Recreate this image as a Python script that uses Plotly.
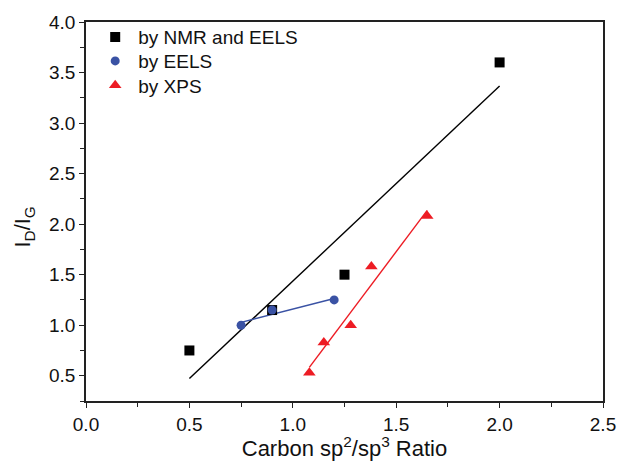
import numpy as np
import plotly.graph_objects as go

# I_D/I_G versus carbon sp2/sp3 ratio, grouped by the method used to get the ratio
nmr_eels_x = [0.5, 0.9, 1.25, 2.0]
nmr_eels_y = [0.75, 1.15, 1.5, 3.6]

eels_x = [0.75, 0.9, 1.2]
eels_y = [1.0, 1.15, 1.25]

xps_x = [1.08, 1.15, 1.28, 1.38, 1.65]
xps_y = [0.53, 0.83, 1.0, 1.58, 2.08]

BLACK = "#000000"
BLUE = "#3A52A4"
RED = "#ED1C24"
FONT = "Liberation Sans, Arial, sans-serif"
TEXT = "#111111"
AXIS = "#222222"


def fit_line(x, y):
    slope, intercept = np.polyfit(x, y, 1)
    xs = np.array([min(x), max(x)])
    return xs, slope * xs + intercept


fig = go.Figure()

# least-squares lines for each group
for xs, ys, color in [
    (nmr_eels_x, nmr_eels_y, BLACK),
    (eels_x, eels_y, BLUE),
    (xps_x, xps_y, RED),
]:
    lx, ly = fit_line(xs, ys)
    fig.add_trace(go.Scatter(
        x=lx, y=ly, mode="lines", showlegend=False, hoverinfo="skip",
        line=dict(color=color, width=1.4),
    ))

# one legend box per series so the rows sit close together
fig.add_trace(go.Scatter(
    x=nmr_eels_x, y=nmr_eels_y, mode="markers", name="by NMR and EELS",
    marker=dict(symbol="square", size=10, color=BLACK), legend="legend",
))
fig.add_trace(go.Scatter(
    x=eels_x, y=eels_y, mode="markers", name="by EELS",
    marker=dict(symbol="circle", size=9, color=BLUE), legend="legend2",
))
fig.add_trace(go.Scatter(
    x=xps_x, y=xps_y, mode="markers", name="by XPS",
    marker=dict(symbol="triangle-up", size=11, color=RED), legend="legend3",
))

axis_common = dict(
    showgrid=False, zeroline=False, automargin=False,
    showline=True, linecolor=AXIS, linewidth=1.5, mirror=True,
    ticks="outside", ticklen=5, tickwidth=1.3, tickcolor=AXIS,
    tickfont=dict(family=FONT, size=19, color=TEXT),
)
minor_ticks = dict(ticks="outside", dtick=0.25, ticklen=4, tickwidth=1.3, tickcolor=AXIS)

fig.update_xaxes(
    range=[0, 2.5], dtick=0.5, tickformat=".1f", minor=minor_ticks,
    title=dict(text="Carbon sp<sup>2</sup>/sp<sup>3</sup> Ratio",
               font=dict(family=FONT, size=22, color=TEXT), standoff=4),
    **axis_common,
)
fig.update_yaxes(
    range=[0.25, 4.0], dtick=0.5, tick0=0, tickformat=".1f", minor=minor_ticks,
    **axis_common,
)

# y-axis title, placed a little below the middle of the axis
fig.add_annotation(
    text="I<sub>D</sub>/I<sub>G</sub>", textangle=-90,
    xref="paper", yref="paper", x=-0.12, y=0.46,
    xanchor="center", yanchor="middle", showarrow=False,
    font=dict(family=FONT, size=22, color=TEXT),
)

legend_style = dict(
    xanchor="left", yanchor="middle",
    font=dict(family=FONT, size=19, color=TEXT),
    bgcolor="rgba(0,0,0,0)", itemwidth=36,
)

fig.update_layout(
    width=617, height=461,
    margin=dict(l=86, r=14, t=22, b=60),
    paper_bgcolor="white", plot_bgcolor="white",
    legend=dict(x=0.012, y=0.96, **legend_style),
    legend2=dict(x=0.012, y=0.897, **legend_style),
    legend3=dict(x=0.012, y=0.833, **legend_style),
)

fig.write_html("out.html")
